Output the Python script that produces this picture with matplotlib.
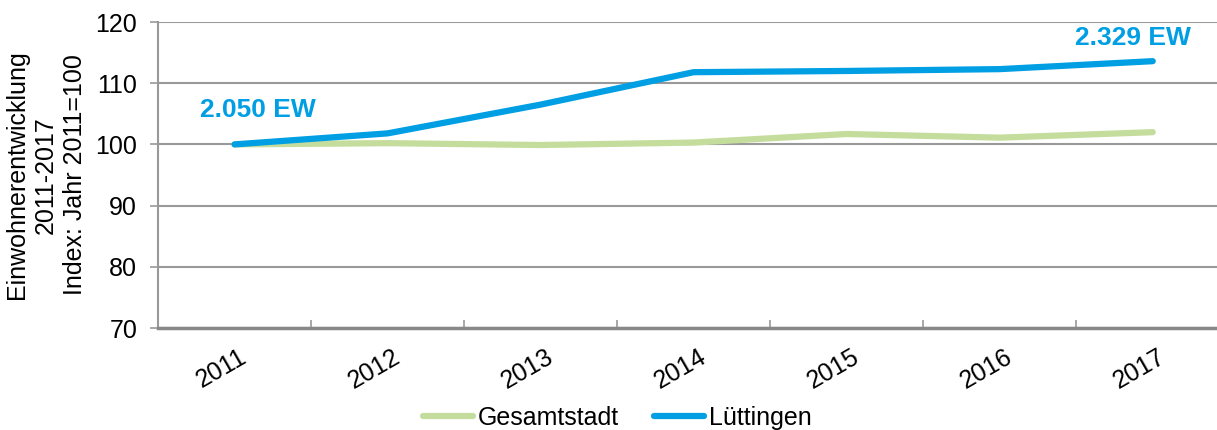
import numpy as np
import matplotlib.pyplot as plt
from matplotlib.transforms import ScaledTranslation

plt.rcParams['font.family'] = ['Liberation Sans', 'DejaVu Sans']

years = ['2011', '2012', '2013', '2014', '2015', '2016', '2017']
gesamtstadt = [100.0, 100.2, 99.9, 100.3, 101.7, 101.1, 102.0]
luettingen = [100.0, 101.8, 106.5, 111.8, 112.0, 112.3, 113.6]
label_start = '2.050 EW'
label_end = '2.329 EW'

green = '#c4dd9c'
blue = '#009fe3'

fig = plt.figure(figsize=(12.17, 4.3), dpi=100)
ax = fig.add_axes([158 / 1217, 1 - 328 / 430, (1217 - 158) / 1217, (328 - 22) / 430])

x = np.arange(len(years))
ax.plot(x, gesamtstadt, color=green, lw=4.5, solid_capstyle='round', label='Gesamtstadt')
ax.plot(x, luettingen, color=blue, lw=4.5, solid_capstyle='round', label='Lüttingen')

ax.set_xlim(-0.5, 6.42)
ax.set_ylim(70, 120)
ax.set_yticks(np.arange(70, 121, 10))
ax.tick_params(axis='y', labelsize=18, length=6, color='#999999', width=1.2, pad=9)
ax.yaxis.grid(True, color='#999999', lw=1.5)
ax.set_axisbelow(True)

ax.set_xticks(np.arange(-0.5, 6.5, 1), minor=False)
ax.set_xticklabels([])
ax.tick_params(axis='x', length=6, color='#999999', width=1.2, direction='in')
ax.set_xticks(x, minor=True)
ax.set_xticklabels(years, minor=True, rotation=30, fontsize=18)
ax.tick_params(axis='x', which='minor', length=0, pad=12)
shift = ScaledTranslation(-13 / 100, 0, fig.dpi_scale_trans)
for lbl in ax.get_xticklabels(minor=True):
    lbl.set_transform(lbl.get_transform() + shift)

for s in ['top', 'right']:
    ax.spines[s].set_visible(False)
ax.spines['left'].set_color('#999999')
ax.spines['left'].set_linewidth(1.5)
ax.spines['bottom'].set_color('#888888')
ax.spines['bottom'].set_linewidth(2.5)

ax.set_ylabel('Einwohnerentwicklung\n2011-2017\nIndex: Jahr 2011=100', fontsize=18, linespacing=1.25, labelpad=6)

ax.text(0.15, 105.6, label_start, color=blue, fontsize=19, fontweight='bold', ha='center', va='center')
ax.text(5.87, 117.4, label_end, color=blue, fontsize=19, fontweight='bold', ha='center', va='center')

ax.legend(loc='center', bbox_to_anchor=((617 - 158) / 1059, (328 - 418) / 306), ncol=2, frameon=False,
          fontsize=18, handlelength=2.0, handletextpad=0.2, columnspacing=1.4)

fig.savefig('out.png', dpi=100)
